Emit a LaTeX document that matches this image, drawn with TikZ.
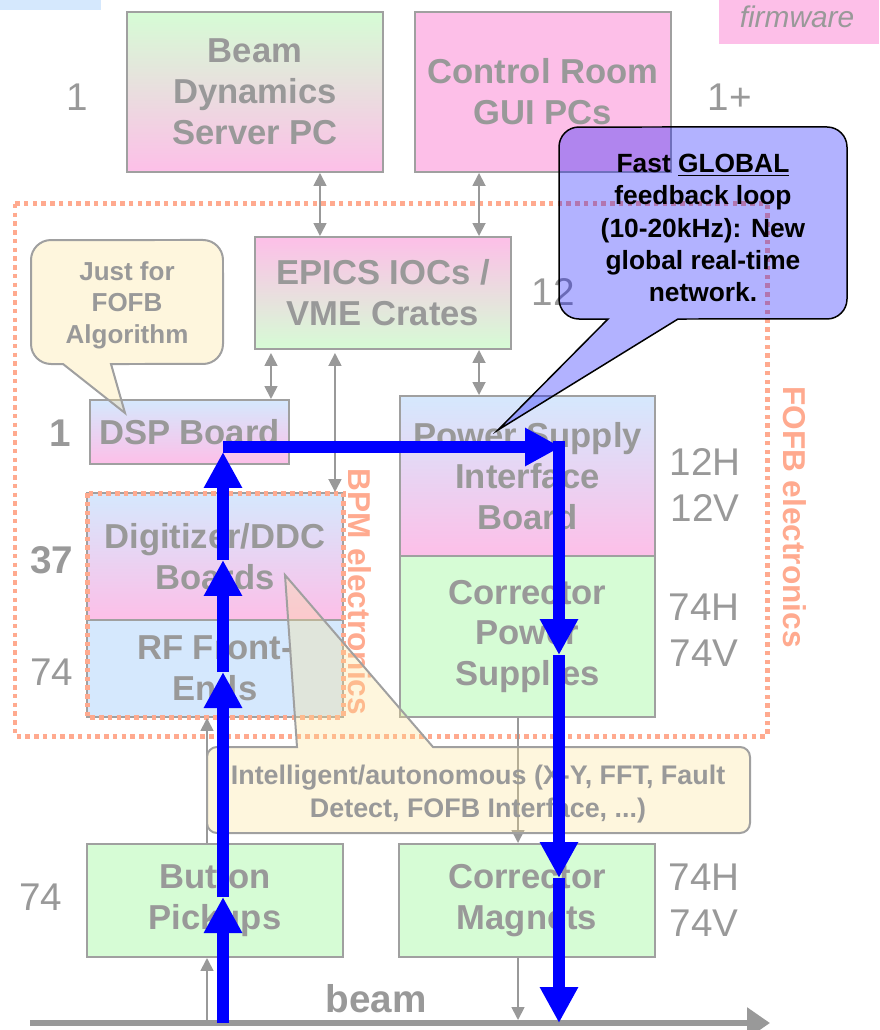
\documentclass[tikz,border=0pt]{standalone}
\usepackage{fontspec}
\setmainfont{Liberation Sans}
\usetikzlibrary{arrows.meta}
\definecolor{txtgray}{HTML}{999999}
\definecolor{edgegray}{HTML}{A0A0A0}
\definecolor{greenfill}{HTML}{D6FCD5}
\definecolor{pinkfill}{HTML}{FDBFE8}
\definecolor{bluefill}{HTML}{D5E8FD}
\definecolor{salmon}{HTML}{FFAA8F}
\definecolor{notefill}{HTML}{FCE08D}
\begin{document}
\begin{tikzpicture}[x=0.02cm,y=-0.02cm,
  panel/.style={draw=edgegray,line width=0.04cm,inner sep=0pt,align=center,text=txtgray,
    font=\bfseries\fontsize{19.7}{23.2}\selectfont},
  wide/.style={minimum width=5.12cm},
  count/.style={text=txtgray,inner sep=0pt,align=center,font=\fontsize{22}{26}\selectfont},
  boldcount/.style={count,font=\bfseries\fontsize{22}{26}\selectfont},
  dotframe/.style={draw=salmon,line width=0.1cm,dash pattern=on 0.09cm off 0.085cm},
  sidelabel/.style={rotate=-90,text=salmon,inner sep=0pt,font=\bfseries\fontsize{18}{22}\selectfont},
  notetxt/.style={text=txtgray,align=center,inner sep=0pt,font=\bfseries\fontsize{15.3}{18.3}\selectfont},
  notebg/.style={draw=edgegray,line width=0.04cm,fill=notefill,fill opacity=0.3},
  fastbg/.style={draw=black,line width=0.03cm,fill=blue,fill opacity=0.3},
  link/.style={draw=txtgray,line width=0.035cm,>={Triangle[length=0.26cm,width=0.26cm]}},
  beamline/.style={draw=txtgray,line width=0.12cm,-{Triangle[length=0.46cm,width=0.6cm]}},
  fbpath/.style={draw=blue,line width=0.24cm,-{Triangle[length=0.72cm,width=0.72cm]}}]
  \useasboundingbox (0,0) rectangle (879,1030);
  \node[fill=bluefill,minimum width=2.02cm,minimum height=0.2cm,inner sep=0pt] (keyblue) at (50.5,5) {};
  \node[fill=pinkfill,minimum width=3.2cm,minimum height=0.88cm,inner sep=0pt] (keypink) at (799,22) {};
  \node[text=txtgray,inner sep=0pt,font=\itshape\fontsize{17}{20}\selectfont] (keytext) at (797,17) {firmware};
  \draw[dotframe] (15,204) rectangle (767,736);
  \node[panel,wide,minimum height=3.2cm,top color=greenfill,bottom color=pinkfill] (beamdyn) at (255,92) {Beam\\Dynamics\\Server PC};
  \node[panel,wide,minimum height=3.2cm,fill=pinkfill] (ctrlroom) at (543,92) {Control Room\\GUI PCs};
  \node[panel,wide,minimum height=2.24cm,top color=pinkfill,bottom color=greenfill] (epics) at (383,293) {EPICS IOCs /\\VME Crates};
  \node[panel,minimum width=3.98cm,minimum height=1.28cm,top color=bluefill,bottom color=pinkfill] (dsp) at (189.5,432) {DSP Board};
  \node[panel,minimum width=5.1cm,minimum height=3.2cm,top color=bluefill,bottom color=pinkfill] (psif) at (527.5,476) {Power Supply\\Interface\\Board};
  \node[panel,minimum width=5.1cm,minimum height=3.22cm,fill=greenfill] (corrps) at (527.5,636.5) {Corrector\\Power\\Supplies};
  \node[panel,wide,minimum height=2.54cm,top color=bluefill,bottom color=pinkfill] (digi) at (215,556.5) {Digitizer/DDC\\Boards};
  \node[panel,wide,minimum height=1.94cm,fill=bluefill] (rffe) at (215,668.5) {RF Front-\\Ends};
  \node[panel,wide,minimum height=2.26cm,fill=greenfill] (button) at (215,900.5) {Button\\Pickups};
  \node[panel,wide,minimum height=2.26cm,fill=greenfill] (corrmag) at (527,900.5) {Corrector\\Magnets};
  \draw[dotframe] (87,493) rectangle (343,717);
  \coordinate (beamL) at (30,1023);
  \coordinate (beamR) at (770,1023);
  \draw[beamline] (beamL) -- (beamR);
  \node[text=txtgray,inner sep=0pt,font=\bfseries\fontsize{22}{26}\selectfont] (beamtxt) at (376,999) {beam};
  \draw[link,<->] ([xshift=1.3cm]beamdyn.south) -- ([xshift=1.3cm]beamdyn.south |- epics.north);
  \draw[link,<->] ([xshift=-1.28cm]ctrlroom.south) -- ([xshift=-1.28cm]ctrlroom.south |- epics.north);
  \draw[link,<->,shorten <=0.06cm] ([xshift=1.63cm]dsp.north |- epics.south) -- ([xshift=1.63cm]dsp.north);
  \draw[link,<->,shorten <=0.06cm] ([xshift=2.4cm]digi.north |- epics.south) -- ([xshift=2.4cm]digi.north);
  \draw[link,<->] ([xshift=-0.97cm]psif.north |- epics.south) -- ([xshift=-0.97cm]psif.north);
  \draw[link,->] ([xshift=-0.19cm]corrps.south) -- ([xshift=-0.19cm]corrps.south |- corrmag.north);
  \draw[link,->,shorten >=0.06cm] ([xshift=-0.18cm]corrmag.south) -- ([xshift=-0.18cm]corrmag.south |- beamL);
  \draw[link,->] ([xshift=-0.16cm]button.south |- beamL) -- ([xshift=-0.16cm]button.south);
  \draw[link,->] ([xshift=-0.16cm]button.north) -- ([xshift=-0.16cm]rffe.south);
  \node[count] (nbeam) at (77,97) {1};
  \node[count] (nctrl) at (730,97) {1+};
  \node[count] (nepics) at (553,292) {12};
  \node[boldcount] (ndsp) at (60,433) {1};
  \node[count] (npsif) at (705,485) {12H\\12V};
  \node[boldcount] (ndigi) at (52,560) {37};
  \node[count] (nrffe) at (52,672) {74};
  \node[count] (ncorrps) at (704,630) {74H\\74V};
  \node[count] (nbutton) at (41,897) {74};
  \node[count] (ncorrmag) at (704,900.5) {74H\\74V};
  \node[sidelabel] (bpmlbl) at (360,592) {BPM electronics};
  \node[sidelabel] (fofblbl) at (795,517) {FOFB electronics};
  \draw[notebg] (111,364) -- (125,413) -- (63,364) -- (51,364) arc[start angle=270,end angle=180,radius=0.4cm] -- (31,260) arc[start angle=180,end angle=90,radius=0.4cm] -- (203,240) arc[start angle=90,end angle=0,radius=0.4cm] -- (223,344) arc[start angle=0,end angle=-90,radius=0.4cm] -- cycle;
  \node[notetxt,font=\bfseries\fontsize{14.8}{18}\selectfont] (algonote) at (127,305) {Just for\\FOFB\\Algorithm};
  \draw[notebg] (297,747) -- (285,575) -- (433,747) -- (740,747) arc[start angle=90,end angle=0,radius=0.2cm] -- (750,823) arc[start angle=0,end angle=-90,radius=0.2cm] -- (217,833) arc[start angle=270,end angle=180,radius=0.2cm] -- (207,757) arc[start angle=180,end angle=90,radius=0.2cm] -- cycle;
  \node[notetxt] (bpmnote) at (478,794) {Intelligent/autonomous (X-Y, FFT, Fault\\Detect, FOFB Interface, ...)};
  \draw[fastbg] (678,319) -- (498,430) -- (608,319) -- (579,319) arc[start angle=270,end angle=180,radius=0.4cm] -- (559,147) arc[start angle=180,end angle=90,radius=0.4cm] -- (827,127) arc[start angle=90,end angle=0,radius=0.4cm] -- (847,299) arc[start angle=0,end angle=-90,radius=0.4cm] -- cycle;
  \node[notetxt,text=black,font=\bfseries\fontsize{15}{18.3}\selectfont] (fastnote) at (703,228) {Fast \underline{GLOBAL}\\feedback loop\\(10-20kHz): New\\global real-time\\network.};
  \coordinate (up0) at (223,1023);
  \coordinate (up1) at (223,897);
  \coordinate (up2) at (223,672);
  \coordinate (up3) at (223,560);
  \coordinate (up4) at (223,452);
  \coordinate (top0) at (223,447);
  \coordinate (top1) at (561,447);
  \coordinate (dn0) at (559,441);
  \coordinate (dn1) at (559,655);
  \coordinate (dn2) at (559,878);
  \coordinate (dn3) at (559,1023);
  \draw[fbpath] (up0) -- (up1);
  \draw[fbpath] (up1) -- (up2);
  \draw[fbpath] (up2) -- (up3);
  \draw[fbpath] (up3) -- (up4);
  \draw[fbpath] (top0) -- (top1);
  \draw[fbpath] (dn0) -- (dn1);
  \draw[fbpath] (dn1) -- (dn2);
  \draw[fbpath] (dn2) -- (dn3);
\end{tikzpicture}
\end{document}
